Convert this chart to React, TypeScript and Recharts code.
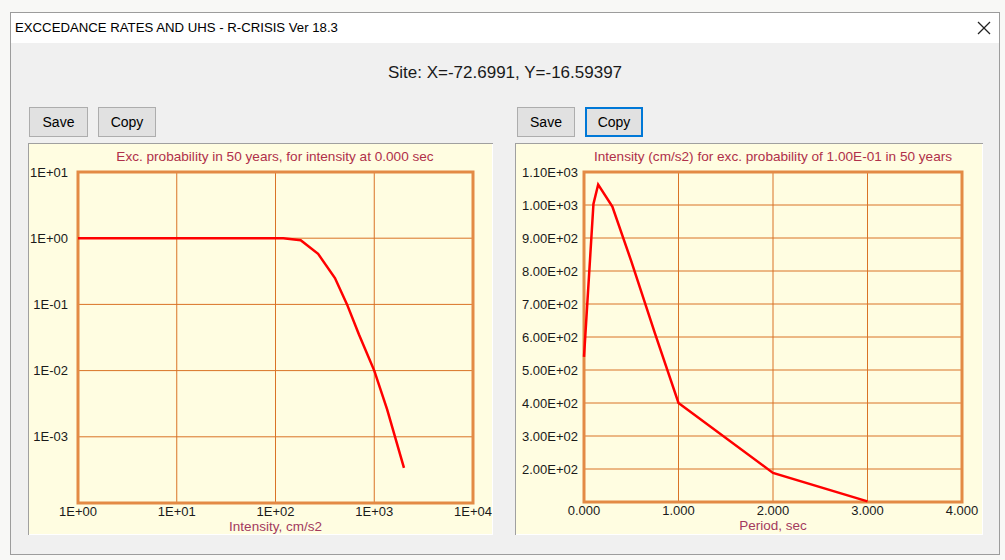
import React from 'react';
import {
  LineChart,
  Line,
  XAxis,
  YAxis,
  CartesianGrid,
  ReferenceArea,
} from 'recharts';

// exceedance curve (left panel)
const intensities = [1, 2, 5, 10, 20, 50, 100, 120, 180, 270, 400, 530, 700, 1000, 1350, 2000];
const probabilities = [1, 1, 1, 1, 1, 1, 1, 0.995, 0.93, 0.58, 0.25, 0.1, 0.035, 0.01, 0.0026, 0.00034];
const intensityTicks = [1, 10, 100, 1000, 10000];
const probabilityTicks = [0.001, 0.01, 0.1, 1, 10];

// uniform hazard spectrum (right panel)
const periods = [0, 0.1, 0.15, 0.3, 0.5, 0.75, 1, 2, 3];
const uhsValues = [540, 1003, 1062, 995, 830, 612, 400, 188, 102];
const periodTicks = [0, 1, 2, 3, 4];
const uhsTicks = [200, 300, 400, 500, 600, 700, 800, 900, 1000, 1100];

const exceedanceData = intensities.map((x, i) => ({ x, y: probabilities[i] }));
const uhsData = periods.map((x, i) => ({ x, y: uhsValues[i] }));

const FONT = '"Liberation Sans", Arial, sans-serif';
const GRID = '#d97326';
const FRAME = '#e38a45';
const TITLE = '#b0304a';
const AXIS_TITLE = '#a33a5e';
const PANEL_BG = '#fffde1';

const pad2 = (n: number) => (n < 10 ? '0' + n : String(n));

const powerLabel = (v: number) => {
  const e = Math.round(Math.log10(v));
  return `1E${e < 0 ? '-' : '+'}${pad2(Math.abs(e))}`;
};

const sciLabel = (v: number) => {
  const e = Math.floor(Math.log10(v));
  const m = v / Math.pow(10, e);
  return `${m.toFixed(2)}E${e < 0 ? '-' : '+'}${pad2(Math.abs(e))}`;
};

const tickStyle = { fill: '#1a1a1a', fontSize: 13, fontFamily: FONT };

const Button: React.FC<{ left: number; width: number; label: string; active?: boolean }> = ({
  left,
  width,
  label,
  active,
}) => (
  <div
    style={{
      position: 'absolute',
      left,
      top: 107,
      width,
      height: 30,
      boxSizing: 'border-box',
      border: active ? '2px solid #0078d7' : '1px solid #adadad',
      background: '#e1e1e1',
      fontSize: 14,
      lineHeight: active ? '26px' : '28px',
      textAlign: 'center',
      color: '#000',
    }}
  >
    {label}
  </div>
);

const panelStyle = (left: number, width: number): React.CSSProperties => ({
  position: 'absolute',
  left,
  top: 143,
  width,
  height: 392,
  background: PANEL_BG,
  boxShadow: 'inset 1px 1px 0 #a0a0a0, inset -1px -1px 0 #ffffff',
});

const chartTitle = (text: string, center: number): React.ReactNode => (
  <div
    style={{
      position: 'absolute',
      left: center - 220,
      width: 440,
      top: 5,
      textAlign: 'center',
      fontSize: 13.6,
      lineHeight: '17px',
      color: TITLE,
      whiteSpace: 'nowrap',
    }}
  >
    {text}
  </div>
);

const App: React.FC = () => {
  return (
    <div
      style={{
        position: 'absolute',
        left: 0,
        top: 0,
        width: 1005,
        height: 560,
        overflow: 'hidden',
        background: '#f8f8f6',
        fontFamily: FONT,
      }}
    >
      {/* dialog window */}
      <div
        style={{
          position: 'absolute',
          left: 10,
          top: 12,
          width: 990,
          height: 543,
          boxSizing: 'border-box',
          border: '1px solid #9c9c9c',
          background: '#f0f0f0',
        }}
      />
      <div style={{ position: 'absolute', left: 11, top: 13, width: 988, height: 30, background: '#fff' }} />
      <div style={{ position: 'absolute', left: 15, top: 20, fontSize: 13.2, lineHeight: '16px', color: '#000' }}>
        EXCCEDANCE RATES AND UHS - R-CRISIS Ver 18.3
      </div>
      <svg style={{ position: 'absolute', left: 977, top: 21 }} width={14} height={14}>
        <line x1={1} y1={1} x2={13} y2={13} stroke="#222" strokeWidth={1.3} />
        <line x1={13} y1={1} x2={1} y2={13} stroke="#222" strokeWidth={1.3} />
      </svg>
      <div
        style={{
          position: 'absolute',
          left: 0,
          width: 1010,
          top: 63,
          textAlign: 'center',
          fontSize: 17,
          lineHeight: '20px',
          color: '#1a1a1a',
        }}
      >
        Site: X=-72.6991, Y=-16.59397
      </div>

      <Button left={29} width={59} label="Save" />
      <Button left={98} width={58} label="Copy" />
      <Button left={517} width={58} label="Save" />
      <Button left={585} width={58} label="Copy" active />

      {/* left panel: exceedance probability */}
      <div style={panelStyle(28, 465)}>
        {chartTitle('Exc. probability in 50 years, for intensity at 0.000 sec', 247)}
        <div style={{ position: 'absolute', left: 0, top: 0 }}>
          <LineChart
            width={465}
            height={392}
            data={exceedanceData}
            margin={{ top: 29, right: 20, left: 0, bottom: 0 }}
          >
            <CartesianGrid stroke={GRID} strokeWidth={1} />
            <XAxis
              dataKey="x"
              type="number"
              scale="log"
              domain={[1, 10000]}
              ticks={intensityTicks}
              tickFormatter={powerLabel}
              allowDataOverflow
              axisLine={false}
              tickLine={false}
              tickSize={2}
              tickMargin={2}
              height={32}
              tick={tickStyle}
              interval={0}
              label={{
                value: 'Intensity, cm/s2',
                position: 'insideBottom',
                offset: 4,
                fill: AXIS_TITLE,
                fontSize: 13.5,
              }}
            />
            <YAxis
              type="number"
              scale="log"
              domain={[0.0001, 10]}
              ticks={probabilityTicks}
              tickFormatter={powerLabel}
              allowDataOverflow
              axisLine={false}
              tickLine={false}
              tickSize={4}
              tickMargin={6}
              width={50}
              tick={tickStyle}
              interval={0}
            />
            <ReferenceArea
              x1={1}
              x2={10000}
              y1={0.0001}
              y2={10}
              fill="none"
              stroke={FRAME}
              strokeWidth={3}
            />
            <Line
              dataKey="y"
              stroke="#ff0000"
              strokeWidth={2.5}
              dot={false}
              isAnimationActive={false}
            />
          </LineChart>
        </div>
      </div>

      {/* right panel: uniform hazard spectrum */}
      <div style={panelStyle(515, 468)}>
        {chartTitle('Intensity (cm/s2) for exc. probability of 1.00E-01 in 50 years', 258)}
        <div style={{ position: 'absolute', left: 0, top: 0 }}>
          <LineChart
            width={468}
            height={392}
            data={uhsData}
            margin={{ top: 29, right: 21, left: 0, bottom: 0 }}
          >
            <CartesianGrid stroke={GRID} strokeWidth={1} />
            <XAxis
              dataKey="x"
              type="number"
              domain={[0, 4]}
              ticks={periodTicks}
              tickFormatter={(v: number) => v.toFixed(3)}
              axisLine={false}
              tickLine={false}
              tickSize={2}
              tickMargin={2}
              height={33}
              tick={tickStyle}
              interval={0}
              label={{
                value: 'Period, sec',
                position: 'insideBottom',
                offset: 5,
                fill: AXIS_TITLE,
                fontSize: 13.5,
              }}
            />
            <YAxis
              type="number"
              domain={[100, 1100]}
              ticks={uhsTicks}
              tickFormatter={sciLabel}
              axisLine={false}
              tickLine={false}
              tickSize={2}
              tickMargin={4}
              width={69}
              tick={tickStyle}
              interval={0}
            />
            <ReferenceArea
              x1={0}
              x2={4}
              y1={100}
              y2={1100}
              fill="none"
              stroke={FRAME}
              strokeWidth={3}
            />
            <Line
              dataKey="y"
              stroke="#ff0000"
              strokeWidth={2.5}
              dot={false}
              isAnimationActive={false}
            />
          </LineChart>
        </div>
      </div>
    </div>
  );
};

export default App;
